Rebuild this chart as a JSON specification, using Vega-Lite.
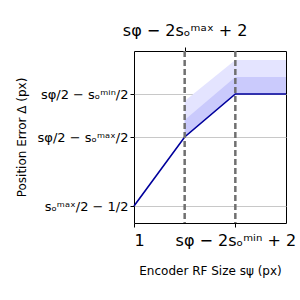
{
  "$schema": "https://vega.github.io/schema/vega-lite/v6.json",
  "width": 152,
  "height": 172,
  "autosize": "none",
  "padding": {"left": 134, "top": 51, "right": 14, "bottom": 77},
  "background": "white",
  "config": {
    "font": "DejaVu Sans",
    "view": {"stroke": "black", "strokeWidth": 1},
    "axis": {"domain": false, "tickColor": "black", "tickSize": 4, "labelColor": "black", "titleColor": "black", "titleFontWeight": "normal"}
  },
  "datasets": {
    "curve": [
      {"size": 1, "error": 17},
      {"size": 2, "error": 86},
      {"size": 3, "error": 129},
      {"size": 4, "error": 129}
    ],
    "band": [
      {"size": 2, "error": 86, "mid": 103, "high": 122},
      {"size": 3, "error": 129, "mid": 146, "high": 163},
      {"size": 4, "error": 129, "mid": 146, "high": 163}
    ],
    "marks": [
      {"size": 2},
      {"size": 3}
    ]
  },
  "layer": [
    {
      "data": {"name": "band"},
      "mark": {"type": "area", "color": "#e4e4ff", "opacity": 1},
      "encoding": {
        "x": {"field": "size", "type": "quantitative", "scale": {"domain": [1, 4], "nice": false, "zero": false},
          "axis": {"orient": "bottom", "values": [1, 3], "grid": false, "labelFontSize": 16, "labelPadding": 5,
            "labelExpr": "datum.value == 1 ? '1' : 'sφ − 2sₒᵐⁱⁿ + 2'",
            "title": "Encoder RF Size sψ (px)", "titleFontSize": 12, "titlePadding": 17}},
        "y": {"field": "error", "type": "quantitative", "scale": {"domain": [0, 172], "nice": false, "zero": false},
          "axis": {"values": [17, 86, 129], "grid": true, "gridColor": "#c8c8c8", "gridWidth": 1, "labelFontSize": 13,
            "labelExpr": "datum.value == 129 ? 'sφ/2 − sₒᵐⁱⁿ/2' : datum.value == 86 ? 'sφ/2 − sₒᵐᵃˣ/2' : 'sₒᵐᵃˣ/2 − 1/2'",
            "title": "Position Error Δ (px)", "titleFontSize": 12, "titleX": -106, "titleY": 86}},
        "y2": {"field": "high"}
      }
    },
    {
      "data": {"name": "band"},
      "mark": {"type": "area", "color": "#cacafc", "opacity": 1},
      "encoding": {
        "x": {"field": "size", "type": "quantitative", "axis": null},
        "y": {"field": "error", "type": "quantitative"},
        "y2": {"field": "mid"}
      }
    },
    {
      "data": {"name": "curve"},
      "mark": {"type": "line", "color": "#00009c", "strokeWidth": 1.6},
      "encoding": {
        "x": {"field": "size", "type": "quantitative", "axis": null},
        "y": {"field": "error", "type": "quantitative"}
      }
    },
    {
      "data": {"name": "marks"},
      "mark": {"type": "rule", "color": "#707070", "strokeWidth": 2.5, "strokeDash": [6, 3]},
      "encoding": {
        "x": {"field": "size", "type": "quantitative",
          "axis": {"orient": "top", "values": [2], "grid": false, "labelFontSize": 16, "labelPadding": 9,
            "labelExpr": "'sφ − 2sₒᵐᵃˣ + 2'", "title": null}}
      }
    }
  ],
  "resolve": {"axis": {"x": "independent"}}
}
